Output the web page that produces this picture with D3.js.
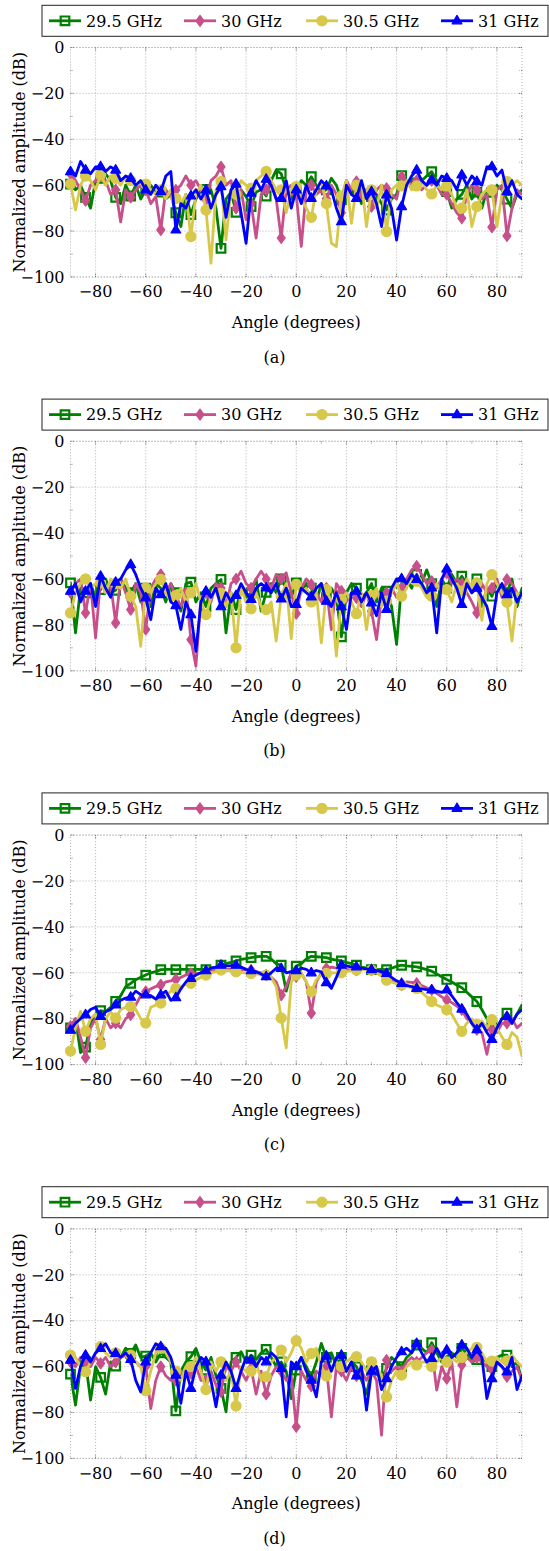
<!DOCTYPE html>
<html><head><meta charset="utf-8">
<script src="https://cdn.jsdelivr.net/npm/d3@7"></script>
<style>
body{margin:0;background:#fff}
svg{display:block}
text{font-family:"DejaVu Serif",serif;font-size:16px;fill:#000}
</style>
</head><body><svg id="chart" width="549" height="1551"></svg>
<script>
// ---------- data ----------
const angles = d3.range(-90, 91, 2);          // x grid (degrees)
const seriesNames = ["29.5 GHz", "30 GHz", "30.5 GHz", "31 GHz"];
const xTicks = [-80, -60, -40, -20, 0, 20, 40, 60, 80];
const yTicks = [0, -20, -40, -60, -80, -100];
const captions = ["(a)", "(b)", "(c)", "(d)"];

// panel (a)
const a295 = [-59.5,-62,-60, -65.3,-70,-58, -57,-55,-58, -65.3,-68,-60, -64.7,-60,-66, -62,-60,-63, -63,-66,-64, -72,-78,-64, -72.8,-66,-62, -61.8,-62,-70, -87.5,-66,-63, -71.8,-62,-65, -69.3,-63,-62, -64.7,-58,-53.4, -55,-62,-66, -63,-58,-60, -56.3,-60,-63, -62,-57,-60, -66.4,-58,-64, -62,-68,-62, -65,-64,-68, -70.8,-66,-64, -55.8,-60,-58, -59,-58,-56, -54.1,-58,-64, -62.8,-70,-66, -64,-60,-66, -63,-70,-62, -63.1,-60,-62, -66.1,-70,-64, -62];
const a30 = [-55,-58,-62, -66.7,-60,-58, -56,-58,-64, -62,-76,-62, -65.3,-62,-60, -62,-68,-65, -79.5,-62,-65, -62.1,-60,-56, -60,-58,-62, -66.4,-58,-56, -52,-60,-58, -70,-62,-75, -68,-83,-64, -62,-58,-66, -83,-62,-60, -64,-86.7,-62, -60,-64,-62, -66,-60,-64, -72,-58,-62, -58.4,-66,-62, -69.3,-62,-60, -61.4,-64,-66, -56.3,-58,-60, -58,-62,-60, -58,-60,-64, -64,-68,-72, -74.4,-64,-60, -62,-66,-64, -78.3,-62,-60, -82.1,-70,-62, -64];
const a305 = [-59.5,-70.8,-60, -56,-58,-62, -55.5,-60,-56, -57,-60,-56, -58,-60,-58, -59.5,-62,-64, -62,-66,-62, -65.7,-68,-64, -82.4,-64,-60, -70.8,-94,-62, -58.4,-83.8,-62, -64,-58,-60, -61.3,-58,-56, -54,-58,-62, -62.1,-72,-62, -60.6,-66,-70, -74,-62,-58, -68,-85.3,-86.7, -64.7,-58,-76.6, -60,-58,-78, -62,-70,-60, -80.2,-62,-60, -60.3,-58,-62, -60.3,-58,-62, -63.8,-60,-62, -60.3,-64,-70, -70,-62,-78, -69.3,-64,-62, -62,-78,-64, -58.4,-60,-58, -60];
const a31 = [-54.1,-56,-49.7, -53.4,-55,-52, -51.9,-54,-52, -53.4,-58,-56, -57,-60,-58, -62.1,-64,-60, -62.8,-56,-54, -79.5,-68,-70, -64.7,-62,-66, -62.1,-70,-64, -60.6,-74,-62, -59.5,-72,-85.3, -63.5,-58,-62, -57.4,-60,-66, -65.7,-58,-70, -62,-68,-60, -65.7,-62,-58, -60.3,-62,-70, -75.9,-60,-64, -65.7,-58,-66, -62.8,-68,-78, -64.2,-70,-83.9, -69.3,-60,-56, -53.4,-58,-60, -57.7,-60,-56, -57,-58,-62, -55.5,-60,-56, -58.4,-60,-52, -51.9,-56,-53.4, -62.8,-58,-64, -66];

// panel (b)
const b295 = [-61.7,-83.5,-64, -66,-62,-68, -64.6,-60,-66, -64.9,-60,-64, -66,-62,-70, -64,-72,-62, -64,-70,-62, -66,-74,-62, -61.4,-70,-66, -72,-64,-62, -60.2,-83.5,-66, -73.3,-64,-68, -66,-60,-74, -65.8,-62,-66, -60,-64,-68, -61.7,-66,-62, -64,-70,-62, -66,-64,-68, -85.2,-66,-62, -64,-68,-66, -62,-70,-64, -65.3,-72,-88.5, -62,-60,-64, -58,-62,-56, -62,-72,-60, -64,-58,-62, -58.8,-62,-66, -60,-72,-64, -67.5,-62,-64, -66,-60,-72, -64];
const b30 = [-66,-62,-60, -74.8,-62,-85.6, -60,-66,-62, -79.1,-60,-66, -73.3,-62,-66, -82,-64,-60, -58.1,-66,-62, -68,-72,-64, -86.4,-98,-68, -66,-70,-62, -64,-72,-62, -60,-56.6,-62, -64,-60,-56.6, -60,-64,-58, -60,-57.3,-66, -75.1,-64,-60, -62.4,-66,-70, -64,-82,-62, -65.3,-70,-66, -68.2,-72,-66, -74,-86.4,-68, -66,-64,-68, -63.9,-60,-56, -54.4,-58,-62, -61,-64,-60, -57.3,-62,-60, -62,-66,-70, -74.8,-62,-66, -64,-60,-68, -60.2,-62,-66, -68];
const b305 = [-74.8,-66,-62, -60,-64,-62, -61.7,-66,-60, -62,-64,-60, -67.5,-72,-89.3, -63.9,-66,-62, -60.2,-66,-70, -67.2,-64,-70, -66,-62,-70, -75.5,-68,-64, -66.3,-72,-66, -90,-64,-70, -73,-66,-72, -73.3,-70,-87.1, -67.5,-62,-86, -62.4,-66,-64, -70,-66,-87.8, -64.6,-70,-93.6, -68.9,-66,-70, -75.1,-66,-82, -67.2,-64,-72, -69.7,-66,-62, -67.5,-64,-58, -61,-64,-68, -67.5,-62,-66, -64.6,-70,-62, -65.3,-60,-64, -61.7,-78,-62, -58.1,-62,-66, -70.1,-87.1,-66, -68];
const b31 = [-65.3,-62,-70, -65.3,-62,-72, -58.8,-64,-68, -61.4,-60,-56, -53.7,-58,-64, -68.2,-77.7,-64, -66.8,-62,-70, -71.6,-82,-70, -75.5,-91.5,-70, -65.3,-68,-64, -72.1,-66,-70, -67.2,-62,-66, -68.9,-64,-62, -63.9,-66,-62, -68.7,-64,-72, -71.1,-64,-66, -67.8,-64,-62, -69.7,-72,-66, -72.1,-82,-66, -65.3,-70,-66, -70.4,-76,-66, -73.3,-64,-60, -59.9,-62,-58, -60.2,-62,-66, -63.9,-83.5,-60, -55.6,-60,-64, -71.1,-62,-66, -64,-68,-72, -80.6,-66,-62, -66.8,-64,-70, -66];

// panel (c)
const c295 = [-84,-80,-94.8, -92.4,-82,-78, -76.5,-77,-75, -72.5,-70,-66, -64.6,-63,-62, -61,-60,-59.5, -58.6,-58.5,-58.5, -58.6,-58.5,-58.5, -58.6,-58.5,-58.5, -58.6,-58,-57.5, -56.7,-56,-55.5, -54.8,-54.2,-53.8, -53.4,-53,-52.8, -52.8,-54,-56, -56.7,-68,-60, -57.1,-56,-54, -52.8,-53,-53.2, -53.4,-54,-54.5, -54.8,-55.5,-56, -56.7,-57.5,-58, -58.6,-58.6,-58.5, -58.6,-58,-57.2, -56.7,-57,-57.2, -57.4,-58,-58.6, -59.3,-60.5,-61.7, -62.9,-64,-65.3, -66.5,-68.5,-70.5, -72.5,-76,-80, -83,-84,-80, -77.6,-82,-78, -74];
const c30 = [-83.3,-80,-88, -97,-84,-80, -89,-80,-84, -81.9,-84,-80, -78.3,-74,-70, -68.2,-67,-66, -65.3,-64,-63.5, -62.9,-62,-61, -60.3,-60.5,-60, -60.3,-59.5,-58.5, -58.1,-58.5,-58.5, -58.6,-58.5,-58.7, -58.8,-59.5,-60, -61,-62,-64, -69.7,-66,-60, -61.7,-60,-64, -77.6,-64,-60, -58.1,-57.5,-58, -58.1,-58.5,-58.8, -58.8,-58.5,-58.6, -58.8,-59.5,-60.5, -61.7,-63,-64.5, -65.3,-64,-64.2, -64.6,-65.5,-66.5, -67.5,-69,-70.5, -71.8,-73,-74.5, -76.1,-80,-82, -84.8,-86,-95.5, -84.8,-86,-82, -81.9,-80,-84, -82];
const c305 = [-94.1,-84,-76.8, -85.5,-80,-78, -91.2,-80,-77, -79.7,-76,-75, -74.7,-76,-80, -81.9,-75,-74, -73.2,-70,-68, -66.8,-66,-65, -64.6,-63,-62, -61,-60,-59.5, -58.8,-59,-59.2, -59.6,-59.8,-60, -60.3,-60.5,-60.8, -61,-62,-66, -79.7,-92.7,-64, -61,-60,-64, -68.2,-63,-61, -60.3,-60,-60, -60,-59.5,-59, -58.8,-58.6,-58.7, -58.8,-60,-61.5, -63.2,-64,-64.8, -65.3,-66,-66.3, -66.8,-68.5,-70.5, -72.5,-74,-75, -76.1,-78,-82, -85.5,-82,-80, -82.5,-81,-84, -80.4,-84,-88, -91.2,-86,-88, -96.3];
const c31 = [-85,-82,-80, -78.3,-76,-75, -79,-77,-76, -74,-72,-71, -70.6,-68,-69.5, -69.6,-70,-71.5, -69.6,-68,-72, -70.8,-67,-64, -62.4,-61,-60, -59.1,-58,-57.5, -56.7,-57,-57, -56.7,-57.5,-58.5, -59.1,-59.5,-60.5, -61.7,-60,-58, -58.1,-60,-59.5, -59.1,-58,-58.5, -60,-59,-59.6, -64.3,-66.8,-62, -56.7,-57,-57.5, -57.4,-58,-58.3, -58.6,-59,-59.5, -60.3,-62,-63.5, -64.6,-65.5,-66, -66.8,-67,-67.3, -67.5,-68,-68.5, -67.5,-70,-73, -75.8,-78,-82, -84.8,-82,-86, -89,-84,-80, -79,-82,-78, -76.1];

// panel (d)
const d295 = [-63.3,-76.8,-60, -58,-74.6,-60, -64.7,-72,-58, -59.8,-56,-52, -54.3,-50.6,-56, -55.4,-54,-58, -54,-56,-58, -79.3,-62,-58, -55.7,-52.1,-58, -61.5,-56,-64, -69.5,-79.7,-58, -56,-53.5,-58, -55,-57,-54, -52.5,-56,-60, -58,-62,-74, -61.5,-56,-60, -64.4,-58,-49.9, -56,-54,-60, -56,-62,-58, -60,-66,-72, -61.8,-62,-66, -60.8,-56,-58, -60,-56,-54, -50.6,-52,-54, -49.6,-54,-58, -55.7,-54,-56, -52.1,-54,-58, -56.9,-56,-58, -60,-56,-55, -55,-60,-58, -66];
const d30 = [-58,-60,-56, -57.9,-60,-56, -58.6,-56,-60, -58,-56,-55, -57,-58,-60, -60,-78.3,-66, -60,-64,-66, -66,-62,-64, -63,-60,-66, -65.9,-62,-68, -71,-60,-62, -57.9,-62,-66, -60.8,-72,-62, -72,-64,-60, -62,-66,-64, -86.2,-62,-66, -68.5,-62,-64, -60,-81.9,-60, -62,-66,-60, -64,-62,-66, -62,-66,-89.9, -57.2,-62,-60, -62,-58,-56, -58,-56,-54, -52.8,-70.2,-60, -65.2,-58,-77.5, -59.3,-56,-58, -56,-58,-60, -61.2,-58,-60, -64.4,-62,-60, -66];
const d305 = [-55,-56,-60, -62.3,-58,-54, -51.3,-54,-56, -54,-56,-54, -55,-58,-60, -70.5,-62,-54, -52,-54,-58, -62,-66,-60, -60,-56,-62, -70,-58,-62, -57.9,-66,-62, -77.2,-60,-62, -62,-58,-66, -64.4,-58,-56, -52.8,-58,-54, -48.7,-52,-58, -54.3,-52,-60, -64.1,-60,-58, -60,-58,-56, -55.7,-58,-62, -57.9,-60,-64, -73.2,-66,-62, -63.7,-60,-58, -59.3,-58,-58, -60,-58,-56, -58,-56,-58, -56,-54,-52, -51.6,-54,-58, -57.6,-56,-58, -57.5,-55,-58, -60];
const d31 = [-57.2,-69.5,-60, -55,-58,-54, -52.1,-50,-54, -54.3,-56,-54, -56.9,-66,-71, -57.9,-54,-50, -51.3,-52,-56, -63.7,-76,-62, -69.5,-60,-56, -57.9,-66,-77.5, -63.7,-58,-62, -69.5,-62,-56, -57.2,-60,-56, -57.9,-54,-56, -60.8,-81.9,-58, -60,-56,-62, -65.9,-73.2,-58, -55.4,-62,-56, -55,-62,-58, -64.1,-60,-79, -62,-60,-70, -65.2,-60,-56, -53.5,-52,-54, -49.9,-54,-58, -56.4,-52,-56, -52.8,-56,-54, -50.6,-52,-56, -52.8,-56,-73.9, -65.2,-58,-60, -62.3,-56,-70, -64];

const panels = [
  [a295, a30, a305, a31],
  [b295, b30, b305, b31],
  [c295, c30, c305, c31],
  [d295, d30, d305, d31]
];

// ---------- styles ----------
const colors = ["#008000", "#c7508a", "#d7c84a", "#0000ff"];
const PANEL_DY = 393.8;
const X0 = 70.5, X1 = 522, YT = 47.5, YB = 277;
const MARK_EVERY = 3;

const svg = d3.select("#chart");
const x = d3.scaleLinear().domain([-90, 90]).range([X0, X1]);

function markPath(k) {
  if (k === 0) return "M-4.3,-4.3H4.3V4.3H-4.3Z";
  if (k === 1) return "M0,-5.5L4,0L0,5.5L-4,0Z";
  if (k === 2) return d3.symbol(d3.symbolCircle, 80)();
  return "M0,-5.4L4.9,3H-4.9Z";
}
function drawMark(g, k, cx, cy) {
  const p = g.append("path").attr("d", markPath(k))
    .attr("transform", `translate(${cx},${cy})`);
  if (k === 0) p.attr("fill", "none").attr("stroke", colors[0]).attr("stroke-width", 2.2);
  else p.attr("fill", colors[k]).attr("stroke", colors[k]).attr("stroke-width", 1.2).attr("stroke-linejoin", "round");
}

panels.forEach((series, pi) => {
  const dy = pi * PANEL_DY;
  const g = svg.append("g").attr("transform", `translate(0,${dy})`);
  const y = d3.scaleLinear().domain([-100, 0]).range([YB, YT]);

  // grid (dotted)
  const grid = g.append("g").attr("stroke", "#a0a0a0").attr("stroke-width", 0.8)
    .attr("stroke-dasharray", "1,2").attr("fill", "none");
  xTicks.forEach(t => grid.append("line").attr("x1", x(t)).attr("x2", x(t)).attr("y1", YT).attr("y2", YB));
  yTicks.forEach(t => grid.append("line").attr("x1", X0).attr("x2", X1).attr("y1", y(t)).attr("y2", y(t)));
  grid.append("rect").attr("x", X0).attr("y", YT).attr("width", X1 - X0).attr("height", YB - YT);

  // ticks (major + minor) drawn inward
  const tk = g.append("g").attr("stroke", "#555").attr("stroke-width", 0.8).attr("stroke-dasharray", "1,1");
  const xMinor = d3.range(-70, 90, 20);
  const yMinor = d3.range(-90, 0, 20);
  xTicks.forEach(t => {
    tk.append("line").attr("x1", x(t)).attr("x2", x(t)).attr("y1", YB).attr("y2", YB - 4);
    tk.append("line").attr("x1", x(t)).attr("x2", x(t)).attr("y1", YT).attr("y2", YT + 4);
  });
  xMinor.forEach(t => {
    tk.append("line").attr("x1", x(t)).attr("x2", x(t)).attr("y1", YB).attr("y2", YB - 2.5);
    tk.append("line").attr("x1", x(t)).attr("x2", x(t)).attr("y1", YT).attr("y2", YT + 2.5);
  });
  yTicks.forEach(t => {
    tk.append("line").attr("x1", X0).attr("x2", X0 + 4).attr("y1", y(t)).attr("y2", y(t));
    tk.append("line").attr("x1", X1).attr("x2", X1 - 4).attr("y1", y(t)).attr("y2", y(t));
  });
  yMinor.forEach(t => {
    tk.append("line").attr("x1", X0).attr("x2", X0 + 2.5).attr("y1", y(t)).attr("y2", y(t));
    tk.append("line").attr("x1", X1).attr("x2", X1 - 2.5).attr("y1", y(t)).attr("y2", y(t));
  });

  // tick labels
  xTicks.forEach(t => g.append("text").attr("x", x(t)).attr("y", 297.3)
    .attr("text-anchor", "middle").text(t < 0 ? "\u2212" + Math.abs(t) : t));
  yTicks.forEach(t => g.append("text").attr("x", 64.5).attr("y", y(t) + 5.8)
    .attr("text-anchor", "end").text(t < 0 ? "\u2212" + Math.abs(t) : t));

  // axis titles
  g.append("text").attr("x", (X0 + X1) / 2).attr("y", 328).attr("text-anchor", "middle").text("Angle (degrees)");
  g.append("text").attr("transform", `translate(25,${(YT + YB) / 2}) rotate(-90)`)
    .attr("text-anchor", "middle").text("Normalized amplitude (dB)");
  g.append("text").attr("x", 274.5).attr("y", 362.5).attr("text-anchor", "middle").text(captions[pi]);

  // clip
  const cid = "clip" + pi;
  g.append("clipPath").attr("id", cid).append("rect")
    .attr("x", X0).attr("y", YT).attr("width", X1 - X0).attr("height", YB - YT);

  const line = d3.line().x((d, i) => x(angles[i])).y(d => y(d));
  series.forEach((vals, k) => {
    g.append("path").datum(vals).attr("d", line)
      .attr("clip-path", `url(#${cid})`)
      .attr("fill", "none").attr("stroke", colors[k]).attr("stroke-width", 2.8)
      .attr("stroke-linejoin", "round").attr("stroke-linecap", "round");
    const mg = g.append("g");
    vals.forEach((v, i) => {
      if (i % MARK_EVERY === 0 && angles[i] < 90) drawMark(mg, k, x(angles[i]), y(v));
    });
  });

  // legend
  const lg = g.append("g");
  lg.append("rect").attr("x", 42).attr("y", 5.3).attr("width", 506).attr("height", 31)
    .attr("fill", "#fff").attr("stroke", "#222").attr("stroke-width", 1);
  const entryX = [49, 184, 306, 441];
  const ly = 20.8;
  seriesNames.forEach((name, k) => {
    const lx = entryX[k];
    lg.append("line").attr("x1", lx).attr("x2", lx + 32).attr("y1", ly).attr("y2", ly)
      .attr("stroke", colors[k]).attr("stroke-width", 2.8);
    drawMark(lg, k, lx + 16, ly);
    lg.append("text").attr("x", lx + 37).attr("y", ly + 5.8).text(name);
  });
});
</script>
</body></html>
